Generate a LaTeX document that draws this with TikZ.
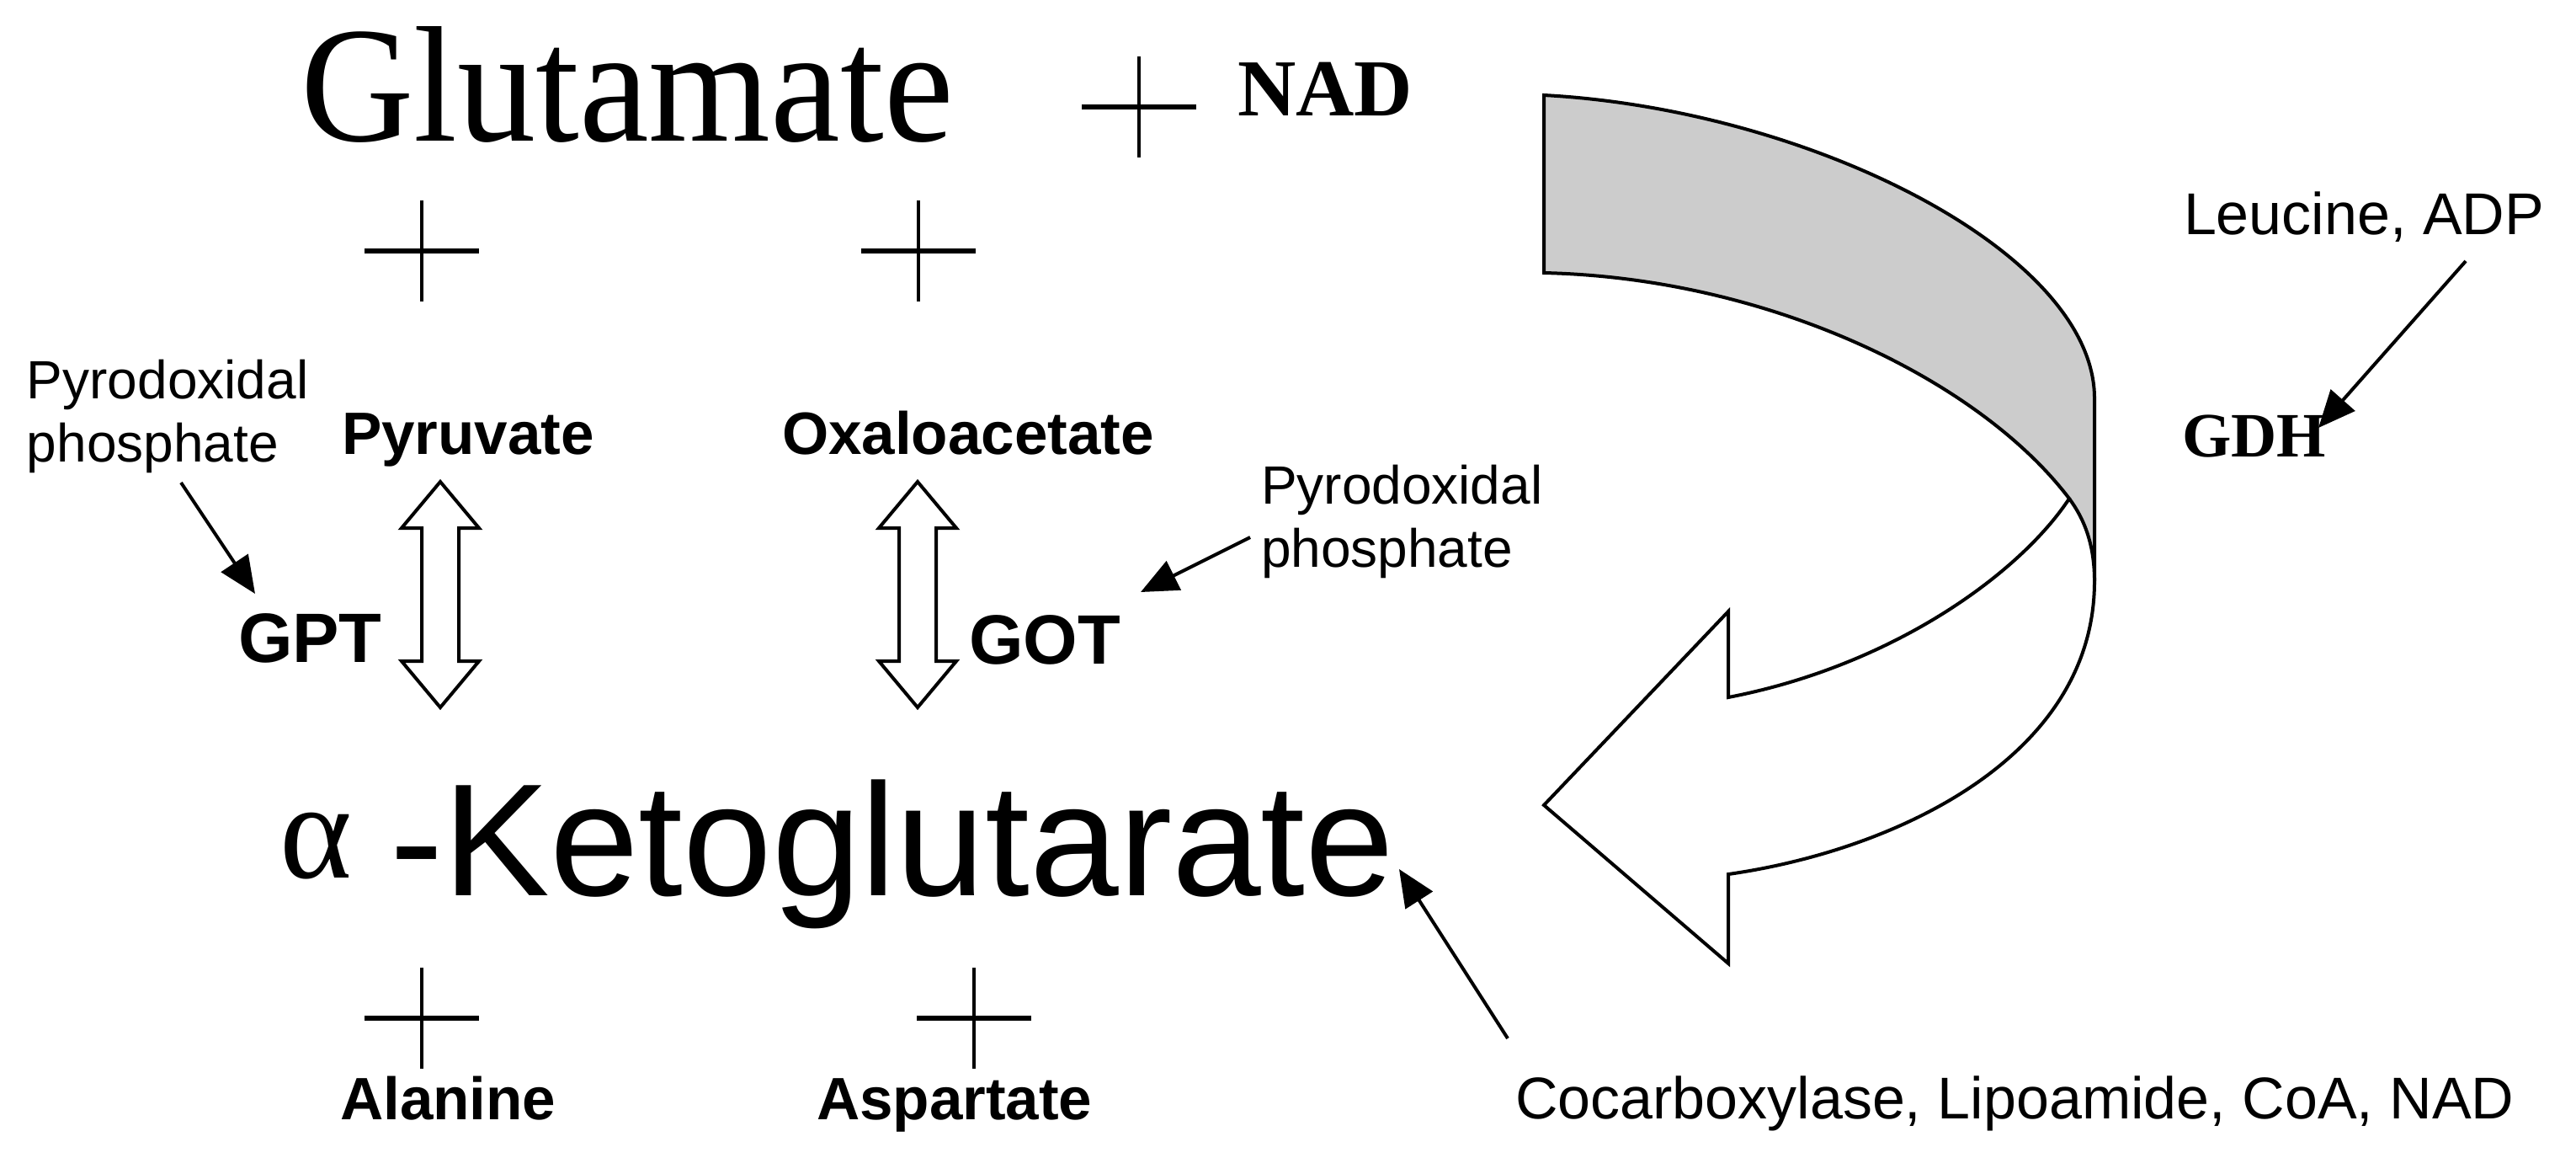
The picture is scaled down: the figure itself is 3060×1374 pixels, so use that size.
\documentclass[tikz,border=0pt]{standalone}
\usepackage{fontspec}
\setmainfont{Liberation Serif}
\newfontfamily\arialf{Liberation Sans}
\newfontfamily\tnrf{Liberation Serif}
\newfontfamily\glufont[FakeStretch=0.95]{Liberation Serif}
\usetikzlibrary{arrows.meta}
\definecolor{bandgray}{HTML}{CCCCCC}
\begin{document}
\begin{tikzpicture}[x=0.25pt,y=-0.25pt,line join=miter,
  lbl/.style={inner sep=0pt,outer sep=0pt,anchor=base west},
  boldlbl/.style={lbl,font=\arialf\bfseries\fontsize{17.75pt}{20pt}\selectfont},
  enzlbl/.style={lbl,font=\arialf\bfseries\fontsize{20.75pt}{24pt}\selectfont},
  cofac/.style={lbl,font=\arialf\fontsize{17.5pt}{20pt}\selectfont},
  pyro/.style={lbl,font=\arialf\fontsize{16pt}{18.75pt}\selectfont},
  thinarrow/.style={line width=1pt,-{Triangle[length=11pt,width=9.5pt]}},
  outline/.style={line width=1pt,draw=black},
  plussign/.pic={\draw[line width=0.9pt] (0,-60) -- (0,60);
                 \draw[line width=1.3pt] (-68,0) -- (68,0);},
  dblarrow/.pic={\draw[outline,fill=white] (0,0) -- (46,55) -- (22,55) -- (22,213) -- (46,213)
                 -- (0,268) -- (-46,213) -- (-22,213) -- (-22,55) -- (-46,55) -- cycle;}
]
\useasboundingbox (0,0) rectangle (3060,1374);

% big curved arrow
\fill[bandgray] (1834,113) .. controls (2150,130) and (2488,300) .. (2488,473)
   -- (2488,690) .. controls (2488,645) and (2475,615) .. (2458,592)
   .. controls (2350,450) and (2100,330) .. (1834,324) -- cycle;
\draw[outline] (1834,324) -- (1834,113) .. controls (2150,130) and (2488,300) .. (2488,473)
   -- (2488,690) .. controls (2488,900) and (2250,1010) .. (2053,1038)
   -- (2053,1144) -- (1834,956) -- (2053,726) -- (2053,828)
   .. controls (2250,790) and (2400,680) .. (2458,592)
   .. controls (2350,450) and (2100,330) .. (1834,324) -- cycle;
\draw[outline] (2458,592) .. controls (2475,615) and (2488,645) .. (2488,690);

% texts
\node[lbl,font=\glufont\fontsize{49pt}{55pt}\selectfont] (glu) at (357,167) {Glutamate};
\node[lbl,font=\tnrf\bfseries\fontsize{24pt}{28pt}\selectfont] (nad) at (1470,137) {NAD};
\node[boldlbl] (pyr) at (406,539) {Pyruvate};
\node[boldlbl] (oxa) at (929,539) {Oxaloacetate};
\node[enzlbl] (gpt) at (283,786) {GPT};
\node[enzlbl] (got) at (1151,788) {GOT};
\node[pyro] (pyl) at (32,473) {\vtop{\hbox{Pyrodoxidal}\hbox{phosphate}}};
\node[pyro] (pyr2) at (1498,598) {\vtop{\hbox{Pyrodoxidal}\hbox{phosphate}}};
\node[cofac] (leu) at (2594,278) {Leucine, ADP};
\node[lbl,font=\tnrf\bfseries\fontsize{18.75pt}{22pt}\selectfont] (gdh) at (2592,542) {GDH};
\node[lbl,font=\tnrf\fontsize{41pt}{46pt}\selectfont] (alpha) at (332,1042) {α};
\node[lbl,font=\arialf\fontsize{47.5pt}{54pt}\selectfont] (keto) at (463,1063) {-Ketoglutarate};
\node[boldlbl] (ala) at (404,1329) {Alanine};
\node[boldlbl] (asp) at (970,1329) {Aspartate};
\node[cofac] (coc) at (1800,1328) {Cocarboxylase, Lipoamide, CoA, NAD};

% plus signs
\pic at (1353,127) {plussign};
\pic at (501,298) {plussign};
\pic at (1091,298) {plussign};
\pic at (501,1209) {plussign};
\pic at (1157,1209) {plussign};

% double arrows
\pic at (523,572) {dblarrow};
\pic at (1090,572) {dblarrow};

% thin arrows
\coordinate (pylout) at (215,573);
\coordinate (gptin) at (303,705);
\coordinate (pyrout) at (1485,638);
\coordinate (gotin) at (1355,703);
\coordinate (leuout) at (2929,310);
\coordinate (gdhin) at (2754,508);
\coordinate (cocout) at (1791,1233);
\coordinate (ketoin) at (1662,1032);
\draw[thinarrow] (pylout) -- (gptin);
\draw[thinarrow] (pyrout) -- (gotin);
\draw[thinarrow] (leuout) -- (gdhin);
\draw[thinarrow] (cocout) -- (ketoin);
\end{tikzpicture}
\end{document}
